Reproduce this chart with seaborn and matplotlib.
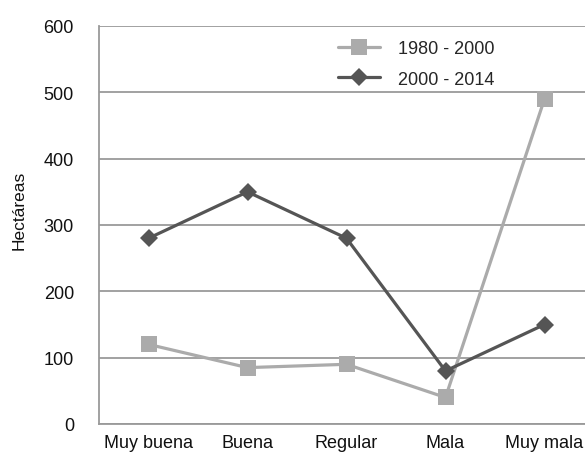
import pandas as pd
import numpy as np
import seaborn as sns
import matplotlib.pyplot as plt
from matplotlib.ticker import FixedLocator

sns.set_style("white")
plt.rcParams["font.family"] = ["Liberation Sans", "DejaVu Sans"]

categorias = ["Muy buena", "Buena", "Regular", "Mala", "Muy mala"]
periodo_1980_2000 = [120, 85, 90, 40, 490]
periodo_2000_2014 = [280, 350, 280, 80, 150]
series = ["1980 - 2000", "2000 - 2014"]

df = pd.DataFrame(
    {
        "Condición": categorias * 2,
        "Hectáreas": periodo_1980_2000 + periodo_2000_2014,
        "Periodo": [series[0]] * 5 + [series[1]] * 5,
    }
)

fig = plt.figure(figsize=(5.85, 4.56), dpi=100)
ax = fig.add_axes([99 / 585, 31 / 456, 495 / 585, 398 / 456])

colores = {series[0]: "#ababab", series[1]: "#555555"}
for s, mk, ms in [(series[0], "s", 11), (series[1], "D", 9)]:
    sub = df[df["Periodo"] == s]
    sns.lineplot(
        data=sub, x=np.arange(len(categorias)), y="Hectáreas", ax=ax,
        color=colores[s], marker=mk, markersize=ms, markeredgewidth=0,
        linewidth=2.3, label=s,
    )

ax.set_xlim(-0.5, 4.5)
ax.set_ylim(0, 600)
ax.set_yticks(range(0, 601, 100))
ax.yaxis.grid(True, color="#9a9a9a", linewidth=1.3)
ax.xaxis.grid(False)
ax.set_xticks(range(len(categorias)))
ax.set_xticklabels(categorias, fontsize=13)
ax.xaxis.set_minor_locator(FixedLocator(np.arange(-0.5, 5, 1)))
ax.tick_params(axis="x", which="major", length=0, pad=7, labelcolor="#111111")
ax.tick_params(axis="x", which="minor", length=6, color="#9a9a9a", width=1.3)
ax.tick_params(axis="y", length=6, color="#9a9a9a", width=1.3, labelsize=13,
               pad=12, labelcolor="#111111")
for sp in ["top", "right"]:
    ax.spines[sp].set_visible(False)
for sp in ["left", "bottom"]:
    ax.spines[sp].set_color("#9a9a9a")
    ax.spines[sp].set_linewidth(1.3)
ax.set_xlabel("")
ax.set_ylabel("Hectáreas", fontsize=12.5, color="#111111")
ax.yaxis.set_label_coords(-0.147, 0.54)

ax.legend(
    loc="upper left", bbox_to_anchor=(0.45, 1.005), frameon=False,
    fontsize=13, handlelength=2.3, labelspacing=0.75, handletextpad=1.0,
)

fig.savefig("out.png", dpi=100)
